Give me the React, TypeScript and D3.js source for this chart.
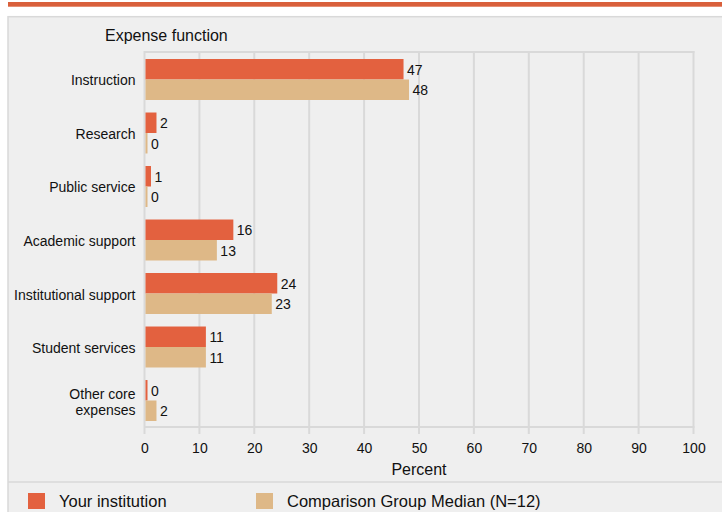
import React from "react";
import * as d3 from "d3";

const categories = ["Instruction", "Research", "Public service", "Academic support", "Institutional support", "Student services", "Other core expenses"];
const categoryLines = [["Instruction"], ["Research"], ["Public service"], ["Academic support"], ["Institutional support"], ["Student services"], ["Other core", "expenses"]];
const yourInstitution = [47, 2, 1, 16, 24, 11, 0];
const comparisonMedian = [48, 0, 0, 13, 23, 11, 2];
const xTicks = [0, 10, 20, 30, 40, 50, 60, 70, 80, 90, 100];
const seriesNames = ["Your institution", "Comparison Group Median (N=12)"];

const W = 722, H = 512;
const FONT = "'Liberation Sans', Arial, sans-serif";
const C1 = "#e3613f", C2 = "#deb887";
const GRID = "#d9d9d9";

export default function App() {
  const x = d3.scaleLinear().domain([0, 100]).range([144.5, 693.5]);
  const band = d3.scaleBand<string>().domain(categories).range([52, 428]).paddingInner(0.234).paddingOuter(0.131);
  const sub = d3.scaleBand<number>().domain([0, 1]).range([0, band.bandwidth()]);
  const series = [yourInstitution, comparisonMedian];
  const colors = [C1, C2];
  return (
    <svg width={W} height={H} style={{ position: "absolute", left: 0, top: 0, display: "block" }} fontFamily={FONT}>
      <rect x={0} y={0} width={W} height={H} fill="#fff" />
      <rect x={8} y={2} width={W - 8} height={4.7} fill="#d9603b" />
      <rect x={8} y={16.7} width={W} height={H} fill="#efefef" stroke={GRID} strokeWidth={1.5} />
      <line x1={8} x2={W} y1={482} y2={482} stroke={GRID} strokeWidth={1.5} />
      <text x={105} y={40.7} fontSize={16} fill="#111">Expense function</text>
      {xTicks.map((t) => (
        <g key={t}>
          <line x1={x(t)} x2={x(t)} y1={51} y2={434} stroke={GRID} strokeWidth={2} />
          <text x={x(t) + 0.5} y={453.3} fontSize={14} textAnchor="middle" fill="#111">{t}</text>
        </g>
      ))}
      <line x1={x(0)} x2={x(100) + 1} y1={427} y2={427} stroke={GRID} strokeWidth={2} />
      <line x1={x(0)} x2={x(100) + 1} y1={52} y2={52} stroke={GRID} strokeWidth={2} />
      <text x={(x(0) + x(100)) / 2} y={475} fontSize={16} textAnchor="middle" fill="#111">Percent</text>
      {categories.map((c, i) => {
        const y0 = band(c)!;
        const cy = y0 + band.bandwidth() / 2;
        const lines = categoryLines[i];
        return (
          <g key={c}>
            {lines.map((l, k) => (
              <text key={k} x={135.5} y={cy + 6 + (k - (lines.length - 1) / 2) * 16} fontSize={14} textAnchor="end" fill="#111">{l}</text>
            ))}
            {series.map((s, j) => {
              const by = y0 + sub(j)!;
              const w = Math.max(x(s[i]) - x(0), 2);
              return (
                <g key={j}>
                  <rect x={x(0) + 1} y={by} width={w} height={sub.bandwidth()} fill={colors[j]} />
                  <text x={x(0) + 1 + w + 3.5} y={by + sub.bandwidth() / 2 + 5.5} fontSize={14} fill="#111">{s[i]}</text>
                </g>
              );
            })}
          </g>
        );
      })}
      <rect x={28} y={493} width={17} height={16} fill={C1} />
      <text x={59} y={507.3} fontSize={16.5} fill="#111">{seriesNames[0]}</text>
      <rect x={256} y={493} width={17} height={16} fill={C2} />
      <text x={287} y={507.3} fontSize={16.5} fill="#111">{seriesNames[1]}</text>
    </svg>
  );
}
